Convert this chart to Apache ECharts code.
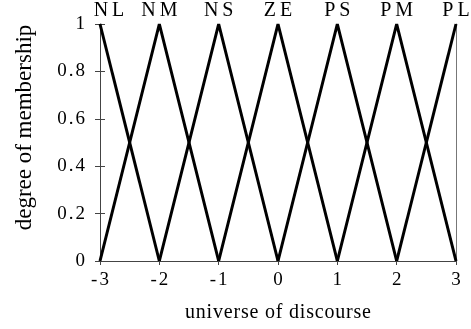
<!DOCTYPE html>
<html>
<head>
<meta charset="utf-8">
<script src="https://cdn.jsdelivr.net/npm/echarts@6/dist/echarts.min.js"></script>
<style>
  html, body { margin: 0; padding: 0; background: #fff; }
  #chart { width: 471px; height: 329px; }
</style>
</head>
<body>
<div id="chart"></div>
<script>
// Fuzzy set names and the centres of their triangular membership functions
const setNames = ['NL', 'NM', 'NS', 'ZE', 'PS', 'PM', 'PL'];
const setCenters = [-3, -2, -1, 0, 1, 2, 3];
const halfWidth = 1;
const xTicks = [-3, -2, -1, 0, 1, 2, 3];
const yTicks = [0, 0.2, 0.4, 0.6, 0.8, 1];
const xTitle = 'universe of discourse';
const yTitle = 'degree of membership';

const FONT = '"Liberation Serif", "Times New Roman", serif';
const AXIS_COLOR = '#444';

// Letter-spaced text: every character becomes its own rich-text fragment
function spaced(str) {
  return str.split('').map(ch => '{c|' + ch + '}').join('');
}
function spacedRich(fontSize, gap) {
  return { c: { fontFamily: FONT, fontSize: fontSize, color: '#000', padding: [0, gap / 2, 0, gap / 2] } };
}

// Triangle (left foot, peak, right foot), clipped to the universe
function triangle(c, name) {
  const lo = xTicks[0], hi = xTicks[xTicks.length - 1];
  const pts = [];
  if (c - halfWidth >= lo) pts.push([c - halfWidth, 0]);
  pts.push({
    value: [c, 1],
    label: {
      show: true,
      formatter: spaced(name),
      fontFamily: FONT,
      fontSize: 20,
      color: '#000',
      position: 'top',
      distance: 3,
      offset: [c === lo ? 9 : 0, 0],
      rich: spacedRich(20, 4)
    }
  });
  if (c + halfWidth <= hi) pts.push([c + halfWidth, 0]);
  return pts;
}

const series = setNames.map((name, i) => ({
  type: 'line',
  name: name,
  data: triangle(setCenters[i], name),
  symbol: 'circle',
  symbolSize: 0,
  showSymbol: true,
  clip: false,
  itemStyle: { color: '#000' },
  lineStyle: { color: '#000', width: 3 },
  emphasis: { disabled: true },
  animation: false
}));

function fmtTick(v) {
  return spaced(String(+v.toFixed(1)));
}

const chart = echarts.init(document.getElementById('chart'), null, { renderer: 'canvas' });
chart.setOption({
  backgroundColor: '#fff',
  animation: false,
  grid: { left: 100, right: 15, top: 24, bottom: 68, containLabel: false },
  xAxis: {
    type: 'value',
    min: xTicks[0],
    max: xTicks[xTicks.length - 1],
    interval: 1,
    name: spaced(xTitle),
    nameLocation: 'middle',
    nameGap: 42,
    nameTextStyle: { fontFamily: FONT, fontSize: 20, color: '#000', rich: spacedRich(20, 0.8) },
    axisLine: { show: true, onZero: false, lineStyle: { color: AXIS_COLOR, width: 1 } },
    axisTick: { show: true, length: 4, lineStyle: { color: AXIS_COLOR } },
    axisLabel: { margin: 10, formatter: fmtTick, rich: spacedRich(19, 2) },
    splitLine: { show: false }
  },
  yAxis: [
    {
      type: 'value',
      min: yTicks[0],
      max: yTicks[yTicks.length - 1],
      interval: 0.2,
      name: yTitle,
      nameLocation: 'middle',
      nameGap: 64,
      nameTextStyle: { fontFamily: FONT, fontSize: 23, color: '#000', padding: [0, 0, 0, 30] },
      axisLine: { show: true, onZero: false, lineStyle: { color: AXIS_COLOR, width: 1 } },
      axisTick: { show: true, length: 5, lineStyle: { color: AXIS_COLOR } },
      axisLabel: { margin: 14, formatter: fmtTick, rich: spacedRich(19, 2) },
      splitLine: { show: false }
    },
    {
      // inward half of the crossing tick marks
      type: 'value',
      position: 'left',
      offset: 0,
      min: yTicks[0],
      max: yTicks[yTicks.length - 1],
      interval: 0.2,
      axisLine: { show: false, onZero: false },
      axisTick: { show: true, inside: true, length: 5, lineStyle: { color: AXIS_COLOR } },
      axisLabel: { show: false },
      splitLine: { show: false }
    },
    {
      // right-hand frame line
      type: 'value',
      position: 'right',
      min: yTicks[0],
      max: yTicks[yTicks.length - 1],
      interval: 0.2,
      axisLine: { show: true, onZero: false, lineStyle: { color: '#777', width: 1 } },
      axisTick: { show: false },
      axisLabel: { show: false },
      splitLine: { show: false }
    }
  ],
  series: series
});
</script>
</body>
</html>
